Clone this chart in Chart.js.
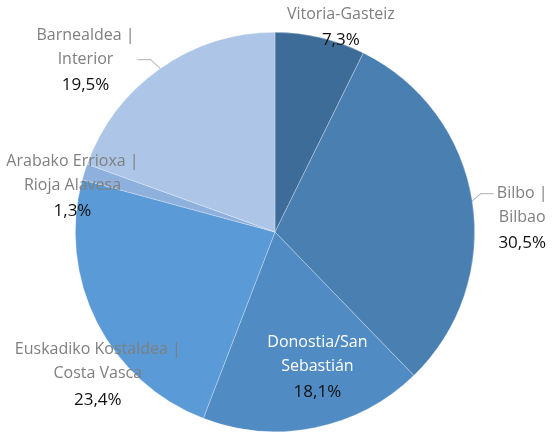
<!DOCTYPE html>
<html>
<head>
<meta charset="utf-8">
<script src="https://cdn.jsdelivr.net/npm/chart.js@4"></script>
<style>
  html, body { margin: 0; padding: 0; background: #fff; }
  #wrap { width: 552px; height: 432px; }
</style>
</head>
<body>
<div id="wrap"><canvas id="pieChart" width="552" height="432"></canvas></div>
<script>
// Data
const regions = [
    'Vitoria-Gasteiz',
    'Bilbo |\nBilbao',
    'Donostia/San\nSebastián',
    'Euskadiko Kostaldea |\nCosta Vasca',
    'Arabako Errioxa |\nRioja Alavesa',
    'Barnealdea |\nInterior'
];
const shares = [7.3, 30.5, 18.1, 23.4, 1.3, 19.5];

// Styles
const sliceColors = ['#3e6c98', '#4a7fb2', '#508bc4', '#5a9ad6', '#8db0dd', '#adc6e7'];
const nameColors = ['#7f7f7f', '#7f7f7f', '#ffffff', '#7f7f7f', '#7f7f7f', '#7f7f7f'];
// label placement: distance as a factor of radius, angle shift from slice middle (deg)
const labelDist = [1.077, 1.24, 0.71, 1.14, 1.04, 1.28];
const labelShift = [4.7, 5.8, -5.9, -12, -4.8, -12.8];
const hasLeader = [false, true, false, false, false, true];

const fmt = v => v.toFixed(1).replace('.', ',') + '%';

const labelPlugin = {
    id: 'sliceLabels',
    afterDatasetsDraw(chart) {
        const ctx = chart.ctx;
        const meta = chart.getDatasetMeta(0);
        ctx.save();
        ctx.textAlign = 'center';
        ctx.textBaseline = 'middle';
        meta.data.forEach((arc, i) => {
            const r = arc.outerRadius;
            const mid = (arc.startAngle + arc.endAngle) / 2;
            const ang = mid + labelShift[i] * Math.PI / 180;
            const cx = arc.x + Math.cos(ang) * r * labelDist[i];
            const cy = arc.y + Math.sin(ang) * r * labelDist[i];

            const names = regions[i].split('\n');
            const nameGap = 24, valueGap = 26;
            const total = (names.length - 1) * nameGap + valueGap;
            let y = cy - total / 2;

            ctx.font = '16px "Open Sans", sans-serif';
            let maxW = 0;
            const lineYs = [];
            names.forEach((n, j) => {
                maxW = Math.max(maxW, ctx.measureText(n).width);
                lineYs.push(y + j * nameGap);
            });

            if (hasLeader[i]) {
                const ex = arc.x + Math.cos(mid) * r;
                const ey = arc.y + Math.sin(mid) * r;
                let ly = lineYs[0];
                lineYs.forEach(v => { if (Math.abs(v - ey) < Math.abs(ly - ey)) ly = v; });
                const right = ex > cx;
                const endX = right ? cx + maxW / 2 + 3 : cx - maxW / 2 - 3;
                const elbowX = right ? endX + 13 : endX - 13;
                ctx.strokeStyle = '#bfbfbf';
                ctx.lineWidth = 1.2;
                ctx.beginPath();
                ctx.moveTo(ex, ey);
                ctx.lineTo(elbowX, ly);
                ctx.lineTo(endX, ly);
                ctx.stroke();
            }

            ctx.fillStyle = nameColors[i];
            names.forEach((n, j) => ctx.fillText(n, cx, lineYs[j]));
            ctx.font = '17px "Open Sans", sans-serif';
            ctx.fillStyle = '#111111';
            ctx.fillText(fmt(shares[i]), cx, lineYs[names.length - 1] + valueGap);
        });
        ctx.restore();
    }
};

new Chart(document.getElementById('pieChart'), {
    type: 'pie',
    data: {
        labels: regions,
        datasets: [{
            data: shares,
            backgroundColor: sliceColors,
            borderColor: 'rgba(255,255,255,0.4)',
            borderWidth: 0.7
        }]
    },
    options: {
        responsive: false,
        animation: false,
        layout: { padding: { left: 75, right: 77, top: 32, bottom: 0 } },
        plugins: {
            legend: { display: false },
            tooltip: { enabled: false }
        }
    },
    plugins: [labelPlugin]
});
</script>
</body>
</html>
